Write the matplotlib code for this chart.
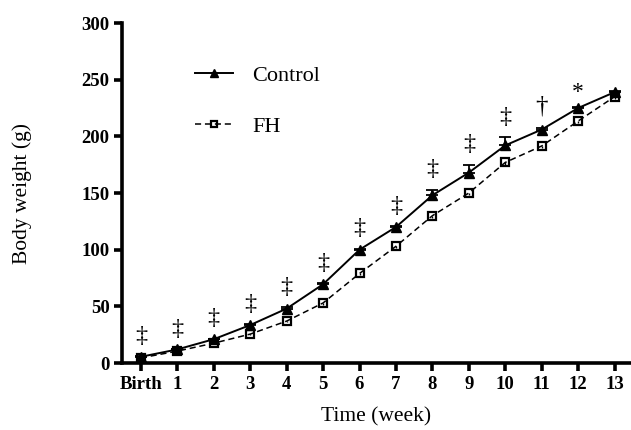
import matplotlib.pyplot as plt
import numpy as np

# Data
weeks = np.arange(14)
week_labels = ['Birth', '1', '2', '3', '4', '5', '6', '7', '8', '9', '10', '11', '12', '13']
control = [5.5, 12, 21, 33.5, 48, 69.5, 100, 120, 148, 168, 192, 206, 225, 239]
control_err = [0.5, 0.5, 0.5, 1, 1, 1, 1, 1, 5, 7, 7, 1, 1, 1]
fh = [4.5, 10.5, 17.5, 25.5, 37, 53, 79, 103, 130, 150, 177, 191.5, 213.5, 235]
fh_err = [0.5, 0.5, 1, 1, 1, 1.5, 1.5, 1.5, 2, 2, 2, 2, 2, 2]
signif = ['‡'] * 11 + ['†', '*', '']

plt.rcParams['font.family'] = ['Liberation Serif', 'DejaVu Serif']

fig = plt.figure(figsize=(6.31, 4.30), dpi=100)
ax = fig.add_axes([0.1933, 0.1558, 0.8067, 0.7907])

# error bars (control upward only, like GraphPad)
ax.errorbar(weeks, control, yerr=[np.zeros(14), control_err], fmt='none', ecolor='black',
            elinewidth=1.3, capsize=4.2, capthick=1.3, zorder=2)
ax.errorbar(weeks, fh, yerr=[fh_err, np.zeros(14)], fmt='none', ecolor='black',
            elinewidth=1.0, capsize=0, zorder=2)

ax.plot(weeks, control, color='black', linestyle='-', linewidth=1.4,
        marker='^', markersize=7.5, markerfacecolor='black', markeredgecolor='black',
        label='Control', zorder=3)
ax.plot(weeks, fh, color='black', linestyle=(0, (4, 2.5)), linewidth=1.1,
        marker='s', markersize=6, markerfacecolor='none', markeredgecolor='black',
        markeredgewidth=1.6, label='FH', zorder=3)

# significance markers above the control series
for x, y, e, s in zip(weeks, control, control_err, signif):
    if not s:
        continue
    if s == '‡':
        fs, offset = 17.5, 17.5
    elif s == '†':
        fs, offset = 18, 19
    else:
        fs, offset = 17, 12.5
    ax.text(x, y + e + offset, s, ha='center', va='center', fontsize=fs, color='black')

ax.set_xlim(-0.52, 13.45)
ax.set_ylim(0, 300)
ax.set_xticks(weeks)
ax.set_xticklabels(week_labels)
ax.set_yticks([0, 50, 100, 150, 200, 250, 300])

for side in ['top', 'right']:
    ax.spines[side].set_visible(False)
for side in ['left', 'bottom']:
    ax.spines[side].set_linewidth(2.6)

ax.tick_params(axis='both', direction='out', length=6, width=2.6, labelsize=13.5, pad=3)
for lbl in ax.get_xticklabels() + ax.get_yticklabels():
    lbl.set_fontweight('bold')

ax.set_xlabel('Time (week)', fontsize=15.5)
ax.set_ylabel('Body weight (g)', fontsize=15.5)
ax.xaxis.set_label_coords(0.5, -0.13)
ax.yaxis.set_label_coords(-0.177, 0.5)

ax.legend(loc='upper left', bbox_to_anchor=(0.143, 0.875), frameon=False, fontsize=16,
          handlelength=1.7, handletextpad=0.9, labelspacing=1.35, borderpad=0,
          borderaxespad=0, markerscale=0.8)

fig.savefig('out.png', dpi=100)
